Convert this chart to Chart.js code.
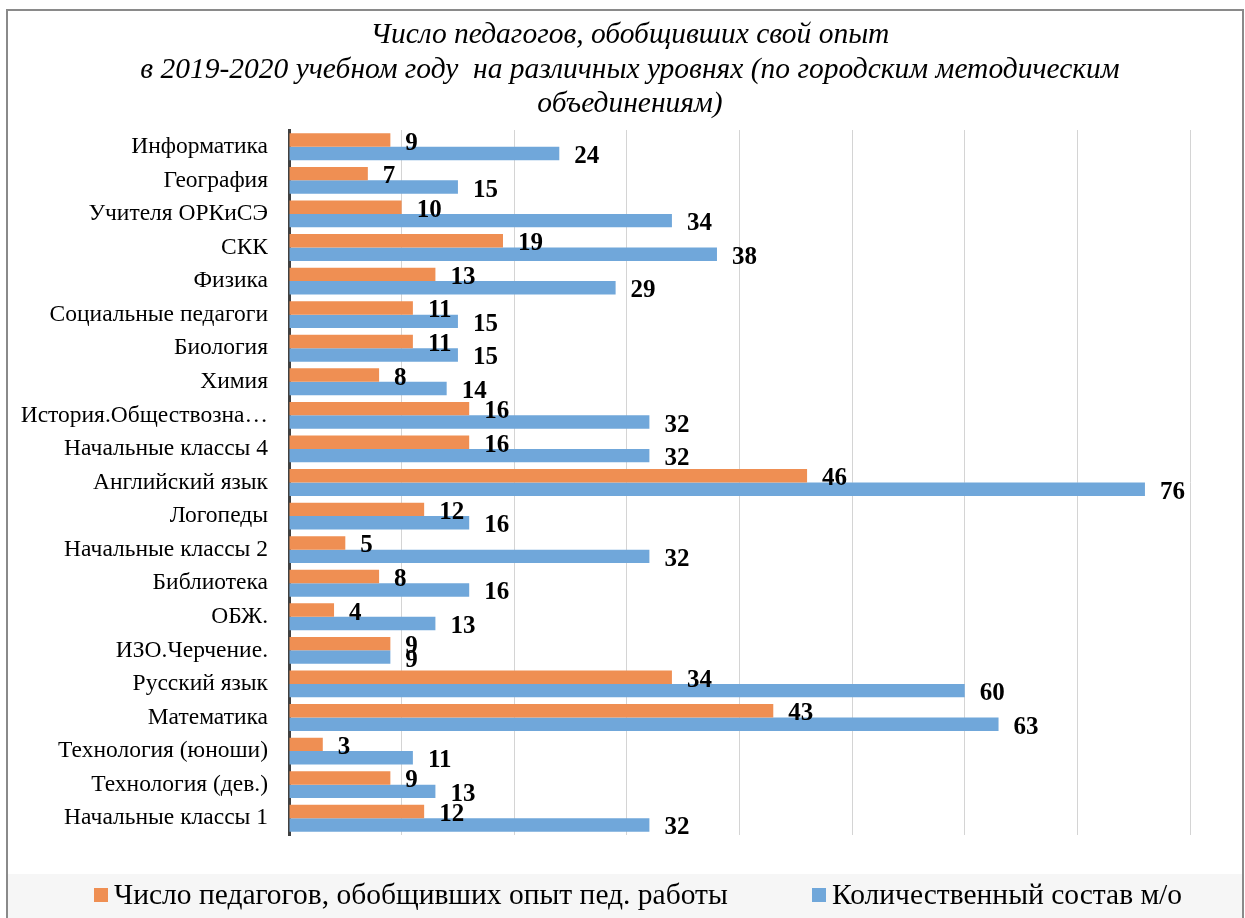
<!DOCTYPE html>
<html>
<head>
<meta charset="utf-8">
<script src="https://cdn.jsdelivr.net/npm/chart.js@4"></script>
<style>
html,body{margin:0;padding:0;background:#fff;}
#wrap{width:1245px;height:918px;position:relative;}
</style>
</head>
<body>
<div id="wrap"><canvas id="c" width="1245" height="918"></canvas></div>
<script>
const categories = [
  "Информатика","География","Учителя ОРКиСЭ","СКК","Физика","Социальные педагоги",
  "Биология","Химия","История.Обществозна…","Начальные классы 4","Английский язык",
  "Логопеды","Начальные классы 2","Библиотека","ОБЖ.","ИЗО.Черчение.","Русский язык",
  "Математика","Технология (юноши)","Технология (дев.)","Начальные классы 1"
];
const generalized = [9,7,10,19,13,11,11,8,16,16,46,12,5,8,4,9,34,43,3,9,12];
const members = [24,15,34,38,29,15,15,14,32,32,76,16,32,16,13,9,60,63,11,13,32];
const seriesNames = ["Число педагогов, обобщивших опыт пед. работы","Количественный состав м/о"];
const titleLines = ["Число педагогов, обобщивших свой опыт","в 2019-2020 учебном году  на различных уровнях (по городским методическим","объединениям)"];
const xTicks = {min:0, max:80, step:10};

const SERIF = "'Liberation Serif','Times New Roman',serif";
const colors = ['#EF8F53','#70A7DA'];

const framePlugin = {
  id:'frame',
  beforeDraw(chart){
    const ctx = chart.ctx;
    ctx.save();
    ctx.fillStyle = '#ffffff';
    ctx.fillRect(0,0,chart.width,chart.height);
    ctx.fillStyle = '#f6f6f6';
    ctx.fillRect(8,874,chart.width-9,chart.height-874);
    ctx.strokeStyle = '#8a8a8a';
    ctx.lineWidth = 2;
    ctx.beginPath();
    ctx.moveTo(7,chart.height);
    ctx.lineTo(7,10);
    ctx.lineTo(chart.width-2,10);
    ctx.lineTo(chart.width-2,chart.height);
    ctx.stroke();
    // title
    ctx.font = "italic 29.5px " + SERIF;
    ctx.fillStyle = '#000';
    ctx.textAlign = 'center';
    ctx.textBaseline = 'alphabetic';
    titleLines.forEach((t,i)=>{
      ctx.fillText(t, 630, 43 + i*34.5);
    });
    ctx.restore();
  },
  afterDraw(chart){
    const ctx = chart.ctx;
    ctx.save();
    // data labels
    ctx.font = "bold 25px " + SERIF;
    ctx.fillStyle = '#000';
    ctx.textAlign = 'left';
    ctx.textBaseline = 'middle';
    chart.data.datasets.forEach((ds,di)=>{
      const meta = chart.getDatasetMeta(di);
      meta.data.forEach((bar,i)=>{
        ctx.fillText(String(ds.data[i]), bar.x + 15, bar.y + 3);
      });
    });
    // legend
    ctx.font = "29.5px " + SERIF;
    const legendY = 896;
    const starts = [94, 812];
    chart.data.datasets.forEach((ds,di)=>{
      const x = starts[di];
      ctx.fillStyle = ds.backgroundColor;
      ctx.fillRect(x, legendY-8, 14, 14);
      ctx.fillStyle = '#000';
      ctx.fillText(ds.label, x + 20, legendY);
    });
    ctx.restore();
  }
};

new Chart(document.getElementById('c'), {
  type:'bar',
  data:{
    labels: categories,
    datasets:[
      {label: seriesNames[0], data: generalized, backgroundColor: colors[0], categoryPercentage:0.8, barPercentage:1.0},
      {label: seriesNames[1], data: members, backgroundColor: colors[1], categoryPercentage:0.8, barPercentage:1.0}
    ]
  },
  plugins:[framePlugin],
  options:{
    indexAxis:'y',
    responsive:false,
    animation:false,
    devicePixelRatio:1,
    layout:{padding:{left:0,right:55,top:130,bottom:83}},
    plugins:{
      legend:{display:false},
      tooltip:{enabled:false},
      title:{display:false}
    },
    scales:{
      x:{
        min:xTicks.min, max:xTicks.max,
        ticks:{display:false, stepSize:xTicks.step},
        grid:{color:'#d4d4d4', lineWidth:1, drawTicks:false},
        border:{display:false}
      },
      y:{
        afterFit(scale){ scale.width = 289; },
        ticks:{color:'#000', font:{family:SERIF, size:23.5}, padding:21, autoSkip:false},
        grid:{display:false, drawTicks:false},
        border:{color:'#404040', width:3}
      }
    }
  }
});
</script>
</body>
</html>
